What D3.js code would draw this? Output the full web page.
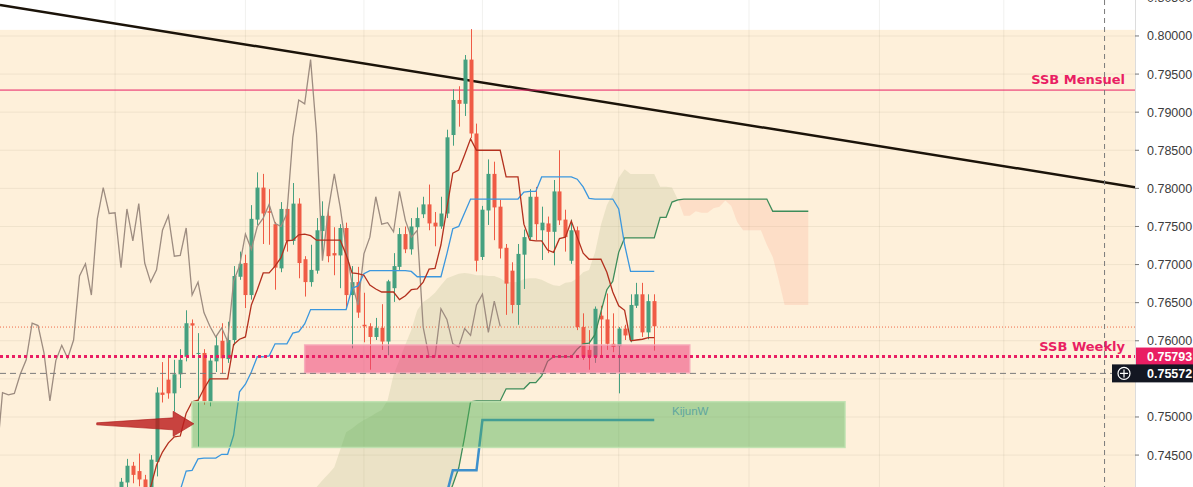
<!DOCTYPE html>
<html><head><meta charset="utf-8">
<script src="https://cdn.jsdelivr.net/npm/d3@7"></script>
<style>html,body{margin:0;padding:0;background:#fff;overflow:hidden}</style>
</head><body>
<svg id="c" width="1193" height="487"></svg>
<script>
// ---------------- DATA ----------------
// daily candles, index 0..90
const opens  = [0.7402,0.7414,0.7436,0.7429,0.7418,0.7404,0.7441,0.7532,0.7549,0.7531,0.7556,0.7579,0.7623,0.7583,0.7584,0.7520,0.7573,0.7600,0.7576,0.7601,0.7684,0.7702,0.7660,0.7759,0.7801,0.7770,0.7753,0.7695,0.7773,0.7731,0.7780,0.7707,0.7677,0.7692,0.7744,0.7764,0.7715,0.7712,0.7748,0.7660,0.7677,0.7621,0.7619,0.7605,0.7617,0.7599,0.7669,0.7697,0.7740,0.7720,0.7749,0.7766,0.7779,0.7755,0.7750,0.7767,0.7870,0.7916,0.7911,0.7969,0.7872,0.7710,0.7771,0.7819,0.7776,0.7722,0.7692,0.7647,0.7713,0.7736,0.7789,0.7745,0.7754,0.7743,0.7796,0.7759,0.7705,0.7745,0.7618,0.7588,0.7579,0.7633,0.7628,0.7596,0.7593,0.7616,0.7601,0.7646,0.7661,0.7611,0.7652];
const highs  = [0.7420,0.7445,0.7441,0.7452,0.7424,0.7450,0.7539,0.7572,0.7578,0.7575,0.7589,0.7640,0.7628,0.7610,0.7589,0.7579,0.7607,0.7623,0.7625,0.7698,0.7717,0.7713,0.7778,0.7821,0.7819,0.7799,0.7756,0.7782,0.7781,0.7807,0.7787,0.7711,0.7726,0.7761,0.7783,0.7774,0.7749,0.7753,0.7755,0.7698,0.7697,0.7663,0.7623,0.7630,0.7648,0.7680,0.7715,0.7748,0.7750,0.7761,0.7775,0.7789,0.7805,0.7769,0.7789,0.7877,0.7930,0.7934,0.7975,0.8009,0.7885,0.7777,0.7838,0.7835,0.7785,0.7727,0.7703,0.7727,0.7746,0.7799,0.7802,0.7776,0.7763,0.7811,0.7850,0.7772,0.7759,0.7750,0.7636,0.7614,0.7645,0.7646,0.7662,0.7636,0.7618,0.7621,0.7661,0.7676,0.7676,0.7661,0.7661];
const lows   = [0.7396,0.7404,0.7413,0.7409,0.7398,0.7399,0.7422,0.7519,0.7524,0.7507,0.7538,0.7573,0.7581,0.7461,0.7516,0.7514,0.7559,0.7557,0.7571,0.7594,0.7680,0.7643,0.7654,0.7752,0.7727,0.7726,0.7667,0.7690,0.7717,0.7726,0.7682,0.7658,0.7671,0.7688,0.7706,0.7703,0.7686,0.7669,0.7644,0.7590,0.7630,0.7598,0.7562,0.7601,0.7588,0.7581,0.7651,0.7693,0.7715,0.7713,0.7743,0.7761,0.7745,0.7724,0.7747,0.7761,0.7856,0.7881,0.7895,0.7866,0.7691,0.7706,0.7752,0.7732,0.7708,0.7634,0.7636,0.7621,0.7668,0.7732,0.7732,0.7706,0.7715,0.7699,0.7752,0.7717,0.7701,0.7614,0.7575,0.7562,0.7571,0.7581,0.7588,0.7585,0.7531,0.7601,0.7598,0.7643,0.7605,0.7602,0.7587];
const closes = [0.7415,0.7436,0.7424,0.7418,0.7404,0.7444,0.7532,0.7529,0.7531,0.7556,0.7575,0.7623,0.7620,0.7584,0.7521,0.7574,0.7594,0.7577,0.7601,0.7685,0.7701,0.7660,0.7760,0.7801,0.7767,0.7768,0.7696,0.7773,0.7731,0.7780,0.7702,0.7677,0.7693,0.7745,0.7764,0.7711,0.7712,0.7748,0.7660,0.7677,0.7637,0.7619,0.7605,0.7617,0.7599,0.7678,0.7698,0.7740,0.7720,0.7750,0.7761,0.7779,0.7754,0.7750,0.7767,0.7867,0.7916,0.7911,0.7969,0.7872,0.7705,0.7772,0.7819,0.7775,0.7721,0.7675,0.7647,0.7714,0.7736,0.7789,0.7753,0.7755,0.7743,0.7796,0.7758,0.7736,0.7745,0.7618,0.7579,0.7579,0.7642,0.7628,0.7596,0.7592,0.7616,0.7607,0.7647,0.7661,0.7611,0.7652,0.7619];

// Ichimoku conversion line (red), from index 4
const TENKAN_START = 4;
const tenkan = [0.7391,0.7408,0.7437,0.7454,0.7466,0.7474,0.7475,0.7505,0.7520,0.7522,0.7537,0.7550,0.7550,0.7550,0.7550,0.7595,0.7602,0.7605,0.7647,0.7667,0.7689,0.7689,0.7698,0.7709,0.7731,0.7732,0.7739,0.7740,0.7738,0.7732,0.7732,0.7732,0.7732,0.7732,0.7713,0.7689,0.7688,0.7686,0.7673,0.7668,0.7664,0.7664,0.7664,0.7654,0.7659,0.7667,0.7668,0.7677,0.7694,0.7695,0.7726,0.7774,0.7820,0.7824,0.7844,0.7865,0.7850,0.7850,0.7850,0.7850,0.7850,0.7815,0.7815,0.7815,0.7753,0.7732,0.7731,0.7731,0.7719,0.7716,0.7734,0.7736,0.7757,0.7736,0.7715,0.7707,0.7707,0.7707,0.7690,0.7664,0.7646,0.7640,0.7600,0.7601,0.7602,0.7604,0.7604];
// Ichimoku base line (blue), from index 10
const KIJUN_START = 10;
const kijun = [0.7404,0.7429,0.7430,0.7445,0.7446,0.7446,0.7446,0.7451,0.7451,0.7476,0.7533,0.7543,0.7559,0.7579,0.7579,0.7580,0.7596,0.7596,0.7596,0.7610,0.7612,0.7622,0.7641,0.7641,0.7641,0.7641,0.7641,0.7641,0.7641,0.7669,0.7672,0.7688,0.7692,0.7692,0.7692,0.7692,0.7692,0.7692,0.7692,0.7691,0.7684,0.7684,0.7684,0.7684,0.7684,0.7714,0.7747,0.7750,0.7768,0.7786,0.7786,0.7786,0.7786,0.7786,0.7786,0.7786,0.7786,0.7786,0.7795,0.7796,0.7796,0.7815,0.7815,0.7815,0.7815,0.7815,0.7815,0.7812,0.7802,0.7787,0.7786,0.7786,0.7786,0.7786,0.7773,0.7726,0.7691,0.7691,0.7691,0.7691,0.7691];
// leading span A (green line), projected forward, from index 55
const SPAN_A_START = 55;
const spanA = [0.7391,0.7411,0.7433,0.7474,0.7520,0.7521,0.7521,0.7521,0.7521,0.7521,0.7537,0.7537,0.7537,0.7537,0.7545,0.7545,0.7554,0.7573,0.7579,0.7579,0.7579,0.7579,0.7589,0.7596,0.7597,0.7608,0.7638,0.7667,0.7678,0.7716,0.7735,0.7735,0.7735,0.7735,0.7735,0.7735,0.7762,0.7762,0.7782,0.7785,0.7786,0.7786,0.7786,0.7786,0.7786,0.7786,0.7786,0.7786,0.7786,0.7786,0.7786,0.7786,0.7786,0.7786,0.7786,0.7770,0.7770,0.7770,0.7770,0.7770,0.7770,0.7770];
// leading span B (cloud edge, no line), from index 32
const SPAN_B_START = 32;
const spanB = [0.7391,0.7408,0.7417,0.7425,0.7434,0.7457,0.7480,0.7485,0.7491,0.7496,0.7500,0.7505,0.7509,0.7522,0.7555,0.7575,0.7595,0.7614,0.7640,0.7651,0.7656,0.7663,0.7673,0.7682,0.7685,0.7688,0.7689,0.7688,0.7686,0.7686,0.7685,0.7685,0.7682,0.7677,0.7677,0.7677,0.7681,0.7682,0.7682,0.7680,0.7676,0.7673,0.7672,0.7676,0.7677,0.7682,0.7690,0.7693,0.7716,0.7752,0.7778,0.7793,0.7814,0.7825,0.7819,0.7819,0.7819,0.7819,0.7819,0.7802,0.7802,0.7801,0.7785,0.7764,0.7764,0.7770,0.7768,0.7768,0.7774,0.7776,0.7784,0.7777,0.7756,0.7745,0.7745,0.7745,0.7745,0.7726,0.7710,0.7680,0.7647,0.7647,0.7647,0.7647,0.7647];
// weekly base line ("KijunW"), from index 55
const KIJUNW_START = 55;
const kijunW = [0.7400,0.7430,0.7430,0.7430,0.7430,0.7430,0.7496,0.7496,0.7496,0.7496,0.7496,0.7496,0.7496,0.7496,0.7496,0.7496,0.7496,0.7496,0.7496,0.7496,0.7496,0.7496,0.7496,0.7496,0.7496,0.7496,0.7496,0.7496,0.7496,0.7496,0.7496,0.7496,0.7496,0.7496,0.7496,0.7496];
const CHIKOU_SHIFT = 26;

const priceTicks = [0.745,0.750,0.755,0.760,0.765,0.770,0.775,0.780,0.785,0.790,0.795,0.800,0.805];
const tickLabels = ["0.74500","0.75000","0.75500","0.76000","0.76500","0.77000","0.77500","0.78000","0.78500","0.79000","0.79500","0.80000","0.80500"];
const monthStarts = [-1,21,41,61,84,106,128,149];

const ssbMensuel = 0.7929;
const ssbWeekly = 0.75793;
const dottedLevel = 0.7618;
const crossPrice = 0.75572;
const crossIndex = 166;
const bandTop = 0.8008;
const pinkZone  = {i0: 31, i1: 96,    pLow: 0.75578, pHigh: 0.75945};
const greenZone = {i0: 12, i1: 122.2, pLow: 0.7460,  pHigh: 0.7520};
const trendPts = [{i: -20, p: 0.8040}, {i: 170, p: 0.7803}];
const arrowPts = {tail: -4.1, headBase: 8.8, tip: 12.3, p: 0.7491};
const kijunWLabel = {i: 93.0, p: 0.7502, text: "KijunW"};

// ---------------- CHART ----------------
const W = 1193, H = 487, PR = 1135;
const svg = d3.select("#c");
const x = d3.scaleLinear().domain([0, 90]).range([121, 654.25]);
const y = d3.scaleLinear().domain([0.74081, 0.80472]).range([H, 0]);

svg.append("rect").attr("width", W).attr("height", H).attr("fill", "#ffffff");
svg.append("defs").append("clipPath").attr("id", "plot")
  .append("rect").attr("x", 0).attr("y", 0).attr("width", PR).attr("height", H);
const g = svg.append("g").attr("clip-path", "url(#plot)");

// beige band
g.append("rect").attr("x", 0).attr("y", y(bandTop)).attr("width", PR)
  .attr("height", H - y(bandTop)).attr("fill", "#fef0da");

// grid
g.selectAll(".hg").data(priceTicks).join("line")
  .attr("x1", 0).attr("x2", PR).attr("y1", d => y(d)).attr("y2", d => y(d))
  .attr("stroke", "rgba(60,50,30,0.07)").attr("stroke-width", 1);
g.selectAll(".vg").data(monthStarts).join("line")
  .attr("x1", d => x(d)).attr("x2", d => x(d)).attr("y1", 0).attr("y2", H)
  .attr("stroke", "rgba(60,50,30,0.07)").attr("stroke-width", 1);

// cloud
const cloud = spanB.map((b, k) => {
  const i = SPAN_B_START + k;
  const ai = i - SPAN_A_START;
  const a = (ai >= 0 && ai < spanA.length) ? spanA[ai] : null;
  const yb = y(b), ya = a === null ? H + 20 : y(a);
  return {i, yb, ya};
});
g.append("path").datum(cloud)
  .attr("d", d3.area().x(d => x(d.i)).y0(d => Math.max(d.yb, d.ya)).y1(d => d.yb))
  .attr("fill", "rgba(175,185,135,0.24)");
g.append("path").datum(cloud)
  .attr("d", d3.area().x(d => x(d.i)).y0(d => Math.max(d.yb, d.ya)).y1(d => d.ya))
  .attr("fill", "rgba(250,160,130,0.22)");

// black trend line (extended)
const slope = (trendPts[1].p - trendPts[0].p) / (trendPts[1].i - trendPts[0].i);
const iL = x.invert(0), iR = x.invert(PR);
g.append("line")
  .attr("x1", 0).attr("y1", y(trendPts[0].p + slope * (iL - trendPts[0].i)))
  .attr("x2", PR).attr("y2", y(trendPts[0].p + slope * (iR - trendPts[0].i)))
  .attr("stroke", "#1b1309").attr("stroke-width", 2.5);

// SSB Mensuel line
g.append("line").attr("x1", 0).attr("x2", PR).attr("y1", y(ssbMensuel)).attr("y2", y(ssbMensuel))
  .attr("stroke", "#e91e63").attr("stroke-width", 1);
// thin dotted level
g.append("line").attr("x1", 0).attr("x2", PR).attr("y1", y(dottedLevel)).attr("y2", y(dottedLevel))
  .attr("stroke", "#ef6a4a").attr("stroke-width", 1).attr("stroke-dasharray", "1,2");

// candles
const candles = d3.range(opens.length).map(i => ({i, o: opens[i], h: highs[i], l: lows[i], c: closes[i]}));
const up = "#45a07f", dn = "#ef5b45";
const cg = g.append("g");
cg.selectAll("line").data(candles).join("line")
  .attr("x1", d => Math.round(x(d.i)) + 0.5).attr("x2", d => Math.round(x(d.i)) + 0.5)
  .attr("y1", d => y(d.h)).attr("y2", d => y(d.l))
  .attr("stroke", d => d.c >= d.o ? up : dn).attr("stroke-width", 1);
cg.selectAll("rect").data(candles).join("rect")
  .attr("x", d => Math.round(x(d.i)) - 1.5).attr("width", 4)
  .attr("y", d => y(Math.max(d.o, d.c)))
  .attr("height", d => Math.max(1, Math.abs(y(d.o) - y(d.c))))
  .attr("fill", d => d.c >= d.o ? up : dn);

// indicator lines
const lineGen = d3.line().x(d => x(d.i)).y(d => y(d.p));
function series(arr, start) { return arr.map((p, k) => ({i: start + k, p})); }
g.append("path").datum(closes.map((p, k) => ({i: k - CHIKOU_SHIFT, p})))
  .attr("d", lineGen).attr("fill", "none").attr("stroke", "#9d8c80").attr("stroke-width", 1.3);
g.append("path").datum(series(spanA, SPAN_A_START))
  .attr("d", lineGen).attr("fill", "none").attr("stroke", "#3d8c5a").attr("stroke-width", 1.3);
g.append("path").datum(series(kijun, KIJUN_START))
  .attr("d", lineGen).attr("fill", "none").attr("stroke", "#3b97de").attr("stroke-width", 1.3);
g.append("path").datum(series(tenkan, TENKAN_START))
  .attr("d", lineGen).attr("fill", "none").attr("stroke", "#b3301e").attr("stroke-width", 1.3);
g.append("path").datum(series(kijunW, KIJUNW_START))
  .attr("d", lineGen).attr("fill", "none").attr("stroke", "#3e90cc").attr("stroke-width", 2.5);

// zones
g.append("rect").attr("x", x(pinkZone.i0)).attr("y", y(pinkZone.pHigh))
  .attr("width", x(pinkZone.i1) - x(pinkZone.i0)).attr("height", y(pinkZone.pLow) - y(pinkZone.pHigh))
  .attr("fill", "rgba(236,64,122,0.55)").attr("stroke", "rgba(246,170,185,0.9)").attr("stroke-width", 1.5);
g.append("rect").attr("x", x(greenZone.i0)).attr("y", y(greenZone.pHigh))
  .attr("width", x(greenZone.i1) - x(greenZone.i0)).attr("height", y(greenZone.pLow) - y(greenZone.pHigh))
  .attr("fill", "rgba(76,175,80,0.45)").attr("stroke", "rgba(190,225,175,0.9)").attr("stroke-width", 1.5);
g.append("text").attr("x", x(kijunWLabel.i)).attr("y", y(kijunWLabel.p))
  .attr("font-family", "Liberation Sans, Arial, sans-serif").attr("font-size", 11.5)
  .attr("fill", "#5fa69f").text(kijunWLabel.text);

// arrow
{
  const yA = y(arrowPts.p), x0 = x(arrowPts.tail), xb = x(arrowPts.headBase), xt = x(arrowPts.tip);
  const pts = [[x0, yA - 1], [xb, yA - 6], [xb, yA - 12.5], [xt, yA], [xb, yA + 12.5], [xb, yA + 6], [x0, yA + 1]];
  g.append("path").attr("d", "M" + pts.map(p => p.join(",")).join("L") + "Z")
    .attr("fill", "rgba(188,28,28,0.82)").attr("stroke", "rgba(170,20,20,0.6)").attr("stroke-width", 1);
}

// SSB Weekly dotted
g.append("line").attr("x1", 0).attr("x2", PR).attr("y1", y(ssbWeekly)).attr("y2", y(ssbWeekly))
  .attr("stroke", "#e91e63").attr("stroke-width", 3).attr("stroke-dasharray", "3,3");
// crosshair
g.append("line").attr("x1", 0).attr("x2", PR).attr("y1", y(crossPrice)).attr("y2", y(crossPrice))
  .attr("stroke", "#7a7a7a").attr("stroke-width", 1).attr("stroke-dasharray", "6,4");
g.append("line").attr("x1", x(crossIndex)).attr("x2", x(crossIndex)).attr("y1", 0).attr("y2", H)
  .attr("stroke", "#7a7a7a").attr("stroke-width", 1).attr("stroke-dasharray", "5,4");

// level labels
g.append("text").attr("x", 1125).attr("y", y(ssbMensuel) - 6).attr("text-anchor", "end")
  .attr("font-family", "DejaVu Sans, sans-serif").attr("font-weight", "bold").attr("font-size", 13)
  .attr("fill", "#e91e63").text("SSB Mensuel");
g.append("text").attr("x", 1125).attr("y", y(ssbWeekly) - 6).attr("text-anchor", "end")
  .attr("font-family", "DejaVu Sans, sans-serif").attr("font-weight", "bold").attr("font-size", 13)
  .attr("fill", "#e91e63").text("SSB Weekly");

// ---------------- PRICE AXIS ----------------
svg.append("line").attr("x1", PR + 0.5).attr("x2", PR + 0.5).attr("y1", 0).attr("y2", H)
  .attr("stroke", "#dcdcdc");
// labels hidden behind the value boxes are not drawn (as in the platform)
const boxPrices = [ssbWeekly, crossPrice];
const shownTicks = priceTicks.map((p, k) => ({p, label: tickLabels[k]}))
  .filter(t => boxPrices.every(b => Math.abs(y(t.p) - y(b)) > 13));
const ax = svg.append("g");
ax.selectAll("line").data(priceTicks).join("line")
  .attr("x1", PR).attr("x2", PR + 4).attr("y1", d => y(d)).attr("y2", d => y(d))
  .attr("stroke", "#777");
ax.selectAll("text").data(shownTicks).join("text")
  .attr("x", 1147).attr("y", d => y(d.p) + 4.5)
  .attr("font-family", "Liberation Sans, Arial, sans-serif").attr("font-size", 12.5)
  .attr("fill", "#3c3c3c").text(d => d.label);

// value boxes
function box(price, fill, label) {
  const yy = y(price);
  svg.append("rect").attr("x", PR + 1).attr("y", yy - 9).attr("width", W - PR).attr("height", 18).attr("fill", fill);
  svg.append("text").attr("x", 1147).attr("y", yy + 4.5)
    .attr("font-family", "Liberation Sans, Arial, sans-serif").attr("font-size", 12.5).attr("font-weight", "bold")
    .attr("fill", "#fff").text(label);
}
box(ssbWeekly, "#e91e63", ssbWeekly.toFixed(5));
box(crossPrice, "#131722", crossPrice.toFixed(5));
{
  const yy = y(crossPrice);
  svg.append("rect").attr("x", 1112).attr("y", yy - 9).attr("width", PR - 1112 + 1).attr("height", 18).attr("fill", "#131722");
  svg.append("circle").attr("cx", 1124).attr("cy", yy).attr("r", 6).attr("fill", "none").attr("stroke", "#fff").attr("stroke-width", 1.2);
  svg.append("line").attr("x1", 1120).attr("x2", 1128).attr("y1", yy).attr("y2", yy).attr("stroke", "#fff").attr("stroke-width", 1.2);
  svg.append("line").attr("x1", 1124).attr("x2", 1124).attr("y1", yy - 4).attr("y2", yy + 4).attr("stroke", "#fff").attr("stroke-width", 1.2);
}
</script>
</body></html>
